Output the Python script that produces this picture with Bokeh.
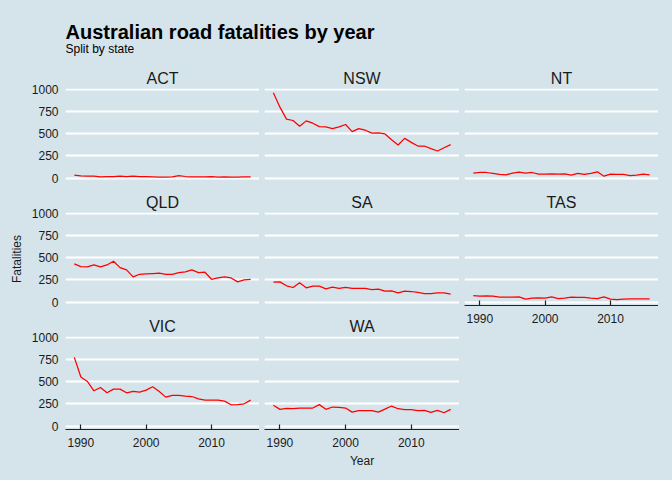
from bokeh.plotting import figure
from bokeh.layouts import row, column
from bokeh.models import Label, FixedTicker, Range1d
from bokeh.embed import file_html
from bokeh.resources import INLINE

years = list(range(1989, 2017))
act = [34, 26, 22, 22, 15, 19, 19, 22, 19, 22, 19, 19, 15, 11, 11, 15, 30, 19, 15, 15, 15, 19, 11, 15, 11, 11, 15, 15]
nsw = [959, 797, 662, 647, 583, 643, 617, 579, 575, 556, 575, 602, 523, 556, 538, 505, 508, 496, 432, 372, 447, 402, 361, 361, 331, 305, 342, 376]
nt = [57, 64, 64, 53, 42, 38, 57, 68, 57, 64, 45, 45, 49, 45, 49, 34, 53, 42, 53, 72, 23, 45, 42, 42, 30, 34, 45, 38]
qld = [429, 399, 396, 418, 396, 418, 459, 388, 362, 284, 313, 317, 321, 325, 313, 313, 332, 340, 362, 332, 336, 257, 272, 284, 272, 228, 250, 257]
sa = [225, 228, 184, 165, 217, 161, 180, 180, 150, 169, 154, 165, 154, 154, 154, 142, 146, 124, 127, 105, 124, 120, 109, 97, 97, 105, 105, 90]
tas = [75, 68, 71, 68, 56, 56, 56, 60, 34, 45, 49, 45, 60, 41, 45, 56, 53, 53, 45, 41, 60, 34, 30, 34, 38, 38, 38, 38]
vic = [772, 551, 502, 397, 434, 375, 416, 416, 375, 390, 382, 404, 442, 390, 326, 345, 345, 337, 333, 307, 292, 292, 292, 281, 240, 243, 251, 292]
wa = [234, 189, 200, 196, 204, 204, 204, 242, 189, 215, 211, 204, 158, 174, 174, 174, 158, 192, 226, 196, 185, 185, 174, 177, 155, 177, 151, 189]

y_ticks = [0, 250, 500, 750, 1000]
x_ticks = [1990, 2000, 2010]

title_text = "Australian road fatalities by year"
subtitle_text = "Split by state"
x_title = "Year"
y_title = "Fatalities"

BG = "#d5e4eb"
FONT = "Liberation Sans"
TXT = "#1a1a1a"
FRAME_H = 93
STRIP = 26
GAP_B = 5
AXIS_B = 51


def panel(name, vals, frame_w, left, xaxis=False, yaxis=False, ylabel=None, xlabel=None):
    bottom = AXIS_B if xaxis else GAP_B
    p = figure(width=left + frame_w, height=STRIP + FRAME_H + bottom,
               output_backend="svg", toolbar_location=None,
               x_range=Range1d(1987.65, 2017.35), y_range=Range1d(-37, 1006),
               x_axis_location="below" if xaxis else None,
               y_axis_location="left" if yaxis else None,
               min_border_left=left, min_border_right=0,
               min_border_top=STRIP, min_border_bottom=bottom,
               background_fill_color=BG, border_fill_color=BG,
               outline_line_color=None)
    p.title.text = name
    p.title.align = "center"
    p.title.text_font = FONT
    p.title.text_font_size = "16px"
    p.title.text_font_style = "normal"
    p.title.text_color = TXT
    p.title.standoff = 3
    p.xgrid.visible = False
    p.ygrid.ticker = FixedTicker(ticks=y_ticks)
    p.ygrid.grid_line_color = "white"
    p.ygrid.grid_line_width = 2.2
    p.line(years, vals, line_color="red", line_width=1.25)
    if xaxis:
        ax = p.xaxis[0]
        ax.ticker = FixedTicker(ticks=x_ticks)
        ax.axis_line_color = "#222222"
        ax.axis_line_width = 1.2
        ax.major_tick_line_color = "#222222"
        ax.major_tick_line_width = 1.2
        ax.major_tick_in = 5
        ax.major_tick_out = 0
        ax.minor_tick_line_color = None
        ax.major_label_standoff = 8
        ax.major_label_text_font = FONT
        ax.major_label_text_font_size = "12px"
        ax.major_label_text_color = TXT
        if xlabel:
            ax.axis_label = xlabel
            ax.axis_label_standoff = 4
            ax.axis_label_text_font = FONT
            ax.axis_label_text_font_size = "12px"
            ax.axis_label_text_font_style = "normal"
            ax.axis_label_text_color = TXT
    if yaxis:
        ay = p.yaxis[0]
        ay.ticker = FixedTicker(ticks=y_ticks)
        ay.axis_line_color = None
        ay.major_tick_line_color = None
        ay.minor_tick_line_color = None
        ay.major_tick_in = 0
        ay.major_tick_out = 0
        ay.major_label_standoff = 7
        ay.major_label_text_font = FONT
        ay.major_label_text_font_size = "12px"
        ay.major_label_text_color = TXT
        if ylabel:
            ay.axis_label = ylabel
            ay.axis_label_standoff = 5
            ay.axis_label_text_font = FONT
            ay.axis_label_text_font_size = "12px"
            ay.axis_label_text_font_style = "normal"
            ay.axis_label_text_color = TXT
    return p


header = figure(width=672, height=62, output_backend="svg", toolbar_location=None,
                x_range=Range1d(0, 1), y_range=Range1d(0, 1),
                x_axis_location=None, y_axis_location=None,
                min_border=0, background_fill_color=BG, border_fill_color=BG,
                outline_line_color=None)
header.xgrid.visible = False
header.ygrid.visible = False
header.add_layout(Label(x=65, y=30.3, x_units="screen", y_units="screen", text=title_text,
                        text_font=FONT, text_font_size="20px", text_font_style="bold",
                        text_color="black", text_baseline="alphabetic"))
header.add_layout(Label(x=65, y=13.5, x_units="screen", y_units="screen", text=subtitle_text,
                        text_font=FONT, text_font_size="12px",
                        text_color="black", text_baseline="alphabetic"))

col1 = column(panel("ACT", act, 194, 65, yaxis=True),
              panel("QLD", qld, 194, 65, yaxis=True, ylabel=y_title),
              panel("VIC", vic, 194, 65, xaxis=True, yaxis=True))
col2 = column(panel("NSW", nsw, 195, 5),
              panel("SA", sa, 195, 5),
              panel("WA", wa, 195, 5, xaxis=True, xlabel=x_title))
col3 = column(panel("NT", nt, 194, 5),
              panel("TAS", tas, 194, 5, xaxis=True))

p = column(header, row(col1, col2, col3), styles={"background-color": BG})

html = file_html(p, INLINE)
html = html.replace("<body>", '<body style="background-color: %s;">' % BG)
open("out.html", "w").write(html)
